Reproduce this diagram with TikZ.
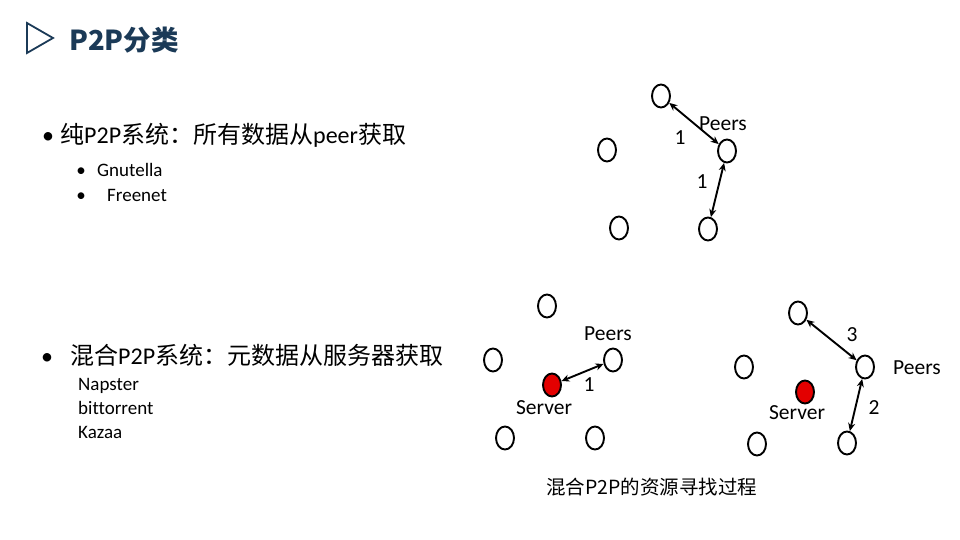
\documentclass[tikz,border=0pt]{standalone}
\usepackage{fontspec}
\setmainfont{Carlito}[Ligatures=NoCommon]
\newfontfamily\cjk{Noto Sans CJK SC}
\usetikzlibrary{shapes.geometric,arrows.meta}
\definecolor{titleblue}{HTML}{1B3A57}
\definecolor{srvred}{HTML}{E30000}
\newcommand\zh[1]{{\cjk #1}}
\begin{document}
\begin{tikzpicture}[x=1pt,y=-1pt,
  peer/.style={draw=black,line width=1.9pt,ellipse,minimum width=18pt,minimum height=23pt,inner sep=0pt},
  server/.style={peer,fill=srvred},
  arr/.style={line width=1.9pt,{Stealth[length=8pt,width=7pt]}-{Stealth[length=8pt,width=7pt]}},
  big/.style={font=\fontsize{24}{28}\selectfont,inner sep=0pt},
  small/.style={font=\fontsize{19}{22}\selectfont,inner sep=0pt},
  lbl/.style={font=\fontsize{21.5}{24}\selectfont,inner sep=0pt}]
\useasboundingbox[fill=white] (0,0) rectangle (960,540);
% title
\draw[titleblue,line width=1.8pt,line join=miter] (27,23) -- (53,38) -- (27,53) -- cycle;
\node[anchor=west,inner sep=0pt,text=titleblue,font=\cjk\bfseries\fontsize{27.5}{30}\selectfont] (title) at (69,40) {P2P分类};
% pure P2P text
\node[big,anchor=base] (b1) at (48,144) {•};
\node[big,anchor=base west] (l1) at (60,144) {\zh{纯}P2P\zh{系统：所有数据从}peer\zh{获取}};
\node[small,anchor=base] (b11) at (81,176) {•};
\node[small,anchor=base west] (g) at (97,176) {Gnutella};
\node[small,anchor=base] (b12) at (81,201) {•};
\node[small,anchor=base west] (f) at (107,201) {Freenet};
% hybrid text
\node[big,anchor=base] (b2) at (47,364) {•};
\node[big,anchor=base west] (l2) at (70,364) {\zh{混合}P2P\zh{系统：元数据从服务器获取}};
\node[small,anchor=base west] (n1) at (78,390) {Napster};
\node[small,anchor=base west] (n2) at (78,414) {bittorrent};
\node[small,anchor=base west] (n3) at (78,438) {Kazaa};
% top group
\node[peer] (t1) at (661,96) {};
\node[peer] (t2) at (607,150) {};
\node[peer] (t3) at (727,151) {};
\node[peer] (t4) at (619,228) {};
\node[peer] (t5) at (708,229) {};
\draw[arr] (t1) -- (t3);
\draw[arr] (t3) -- (t5);
\node[lbl] (tl1) at (680,138) {1};
\node[lbl] (tp) at (723,124) {Peers};
\node[lbl] (tl2) at (702,182) {1};
% bottom-left group
\node[peer] (a1) at (547,306) {};
\node[peer] (a2) at (493,360) {};
\node[peer] (a3) at (613,360) {};
\node[server] (as) at (552,385) {};
\node[peer] (a4) at (505,438) {};
\node[peer] (a5) at (595,438) {};
\draw[arr] (as) -- (a3);
\node[lbl] (ap) at (608,334) {Peers};
\node[lbl] (al) at (589,385) {1};
\node[lbl] (asl) at (544,408) {Server};
% bottom-right group
\node[peer] (c1) at (798,313) {};
\node[peer] (c2) at (744,367) {};
\node[peer] (c3) at (865,367) {};
\node[server] (cs) at (805,392) {};
\node[peer] (c4) at (757,444) {};
\node[peer] (c5) at (847,443) {};
\draw[arr] (c1) -- (c3);
\draw[arr] (c3) -- (c5);
\node[lbl] (c3l) at (852,335) {3};
\node[lbl] (cp) at (917,368) {Peers};
\node[lbl] (c2l) at (874,408) {2};
\node[lbl] (csl) at (797,413) {Server};
% caption
\node[anchor=base west,inner sep=0pt,font=\fontsize{19.5}{22}\selectfont] (cap) at (546,494) {\zh{混合P2P的资源寻找过程}};
\end{tikzpicture}
\end{document}
